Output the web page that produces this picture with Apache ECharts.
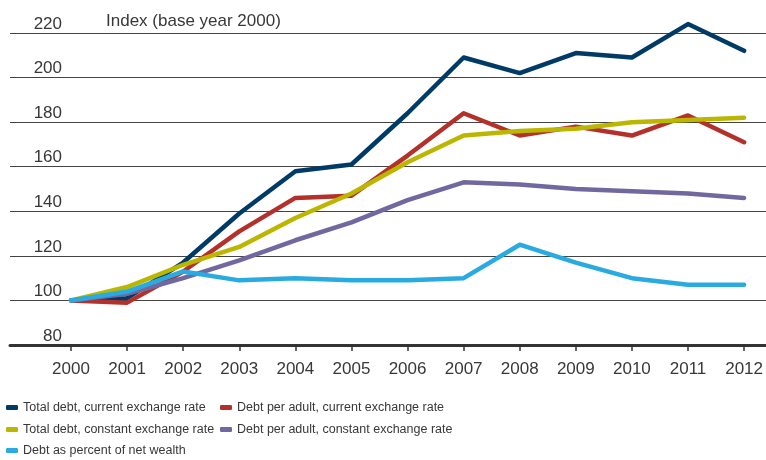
<!DOCTYPE html>
<html><head><meta charset="utf-8">
<script src="https://cdn.jsdelivr.net/npm/echarts@6/dist/echarts.min.js"></script>
<style>html,body{margin:0;padding:0;background:#fff}#c{width:766px;height:460px}</style>
</head><body><div id="c"></div>
<script>
const years = ['2000','2001','2002','2003','2004','2005','2006','2007','2008','2009','2010','2011','2012'];
const yTicks = [80,100,120,140,160,180,200,220];
const seriesNames = [
  'Total debt, current exchange rate',
  'Debt per adult, current exchange rate',
  'Total debt, constant exchange rate',
  'Debt per adult, constant exchange rate',
  'Debt as percent of net wealth'
];
const totalDebtCurrent = [100,101,117,139,158,161,184,209,202,211,209,224,212];
const perAdultCurrent  = [100,99,113,131,146,147,165,184,174,178,174,183,171];
const totalDebtConst   = [100,106,116,124,137,148,162,174,176,177,180,181,182];
const perAdultConst    = [100,103,110,118,127,135,145,153,152,150,149,148,146];
const pctNetWealth     = [100,104,113,109,110,109,109,110,125,117,110,107,107];
const colors = ['#003a66','#b3312a','#bbb700','#7069a0','#29abe2'];
const allData = [totalDebtCurrent, perAdultCurrent, totalDebtConst, perAdultConst, pctNetWealth];

const txt = '#383838';
const chart = echarts.init(document.getElementById('c'), null, {renderer:'canvas'});
const legendPos = [[6,401],[220,401],[6,423],[220,423],[6,444]];
chart.setOption({
  animation:false,
  title:{text:'Index (base year 2000)', left:106, top:13, padding:0,
    textStyle:{fontFamily:'Liberation Sans', fontSize:17, fontWeight:'normal', color:txt}},
  grid:[
    {left:10, right:0, top:33, bottom:115},
    {left:71, right:19, top:33, bottom:115}
  ],
  xAxis:[
    {gridIndex:0, type:'value', min:0, max:1, axisLabel:{show:false}, axisTick:{show:false}, splitLine:{show:false},
      axisLine:{show:true, lineStyle:{color:'#333', width:3}}},
    {gridIndex:1, type:'category', data:years, boundaryGap:false,
      axisLine:{show:false},
      axisTick:{show:true, length:6, lineStyle:{color:'#333', width:1.5}},
      axisLabel:{margin:16, fontFamily:'Liberation Sans', fontSize:17, color:txt}}
  ],
  yAxis:[
    {gridIndex:0, type:'value', min:yTicks[0], max:yTicks[yTicks.length-1], interval:20,
      axisLine:{show:false}, axisTick:{show:false},
      splitLine:{show:true, lineStyle:{color:'#444', width:1.2}},
      axisLabel:{inside:true, align:'right', margin:52, verticalAlign:'bottom', lineHeight:18,
        fontFamily:'Liberation Sans', fontSize:17, color:txt}},
    {gridIndex:1, type:'value', min:80, max:220, interval:20, show:false}
  ],
  legend: seriesNames.map((n,i)=>({
    data:[n], left:legendPos[i][0], top:legendPos[i][1], padding:0,
    icon:'roundRect', itemWidth:12, itemHeight:5, selectedMode:false,
    textStyle:{fontFamily:'Liberation Sans', fontSize:12.5, color:txt}
  })),
  series: seriesNames.map((n,i)=>({
    name:n, type:'line', xAxisIndex:1, yAxisIndex:1, data:allData[i],
    symbol:'none', smooth:false, color:colors[i], clip:false,
    lineStyle:{width:4.5, color:colors[i], join:'round', cap:'round'}
  }))
});
</script></body></html>
